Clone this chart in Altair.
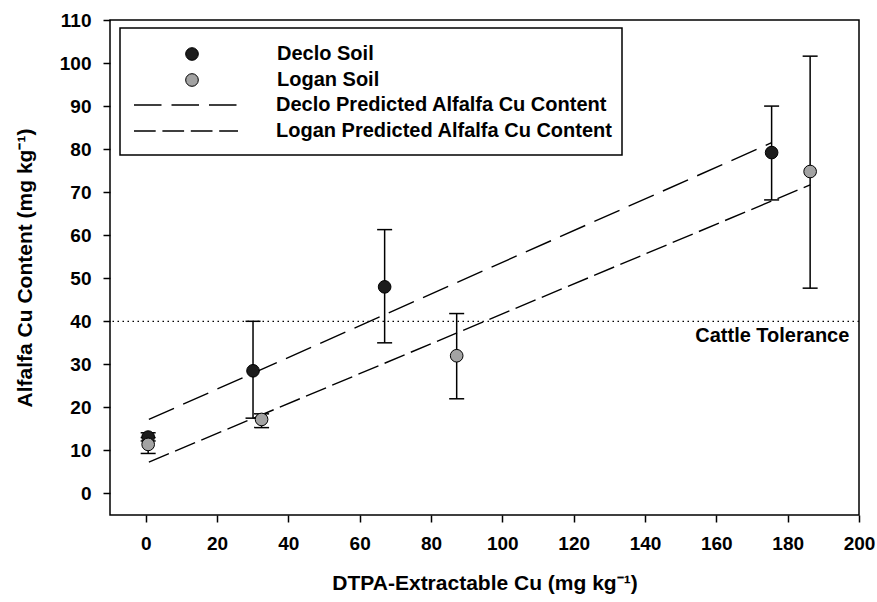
import altair as alt
import pandas as pd

# ---- data ----
soil_names = ["Declo Soil", "Logan Soil"]
pred_names = ["Declo Predicted Alfalfa Cu Content", "Logan Predicted Alfalfa Cu Content"]

declo_x = [0.7, 30.1, 67.0, 175.5]
declo_y = [13.1, 28.5, 48.0, 79.2]
declo_lo = [12.2, 17.5, 35.0, 68.2]
declo_hi = [14.1, 40.0, 61.3, 90.0]

logan_x = [0.7, 32.5, 87.2, 186.3]
logan_y = [11.4, 17.2, 32.0, 74.8]
logan_lo = [9.3, 15.3, 22.0, 47.7]
logan_hi = [13.0, 18.5, 41.8, 101.6]

declo_pred_x = [0.9, 175.5]
declo_pred_y = [17.2, 81.5]
logan_pred_x = [0.9, 186.3]
logan_pred_y = [7.3, 71.7]

tolerance_value = 40
tolerance_label = "Cattle Tolerance"
tolerance_label_x = 197.3

x_ticks = list(range(0, 201, 20))
y_ticks = list(range(0, 111, 10))

FONT = "Liberation Sans"

# ---- tables ----
pts = pd.DataFrame({
    "soil": [soil_names[0]] * 4 + [soil_names[1]] * 4,
    "x": declo_x + logan_x,
    "y": declo_y + logan_y,
    "lo": declo_lo + logan_lo,
    "hi": declo_hi + logan_hi,
})
pred = pd.DataFrame({
    "pred": [pred_names[0]] * 2 + [pred_names[1]] * 2,
    "x": declo_pred_x + logan_pred_x,
    "y": declo_pred_y + logan_pred_y,
})
tol = pd.DataFrame({"y": [tolerance_value], "x": [tolerance_label_x], "label": [tolerance_label]})
box = pd.DataFrame({"k": [0]})

xs = alt.Scale(domain=[-10, 200], nice=False, zero=False)
ys = alt.Scale(domain=[-5, 110], nice=False, zero=False)

x_axis = alt.Axis(
    values=x_ticks, title="DTPA-Extractable Cu (mg kg⁻¹)", grid=False, domain=False,
    tickColor="black", tickWidth=1.5, tickSize=7, labelPadding=12, labelFlush=False,
    labelFont=FONT, labelFontSize=19, labelFontWeight="bold", labelColor="black",
    titleFont=FONT, titleFontSize=21, titleFontWeight="bold", titleColor="black",
    titleX=374.5, titleY=68, titleBaseline="middle",
)
y_axis = alt.Axis(
    values=y_ticks, title="Alfalfa Cu Content (mg kg⁻¹)", grid=False, domain=False,
    tickColor="black", tickWidth=1.5, tickSize=7, labelPadding=12, labelFlush=False,
    labelFont=FONT, labelFontSize=19, labelFontWeight="bold", labelColor="black",
    titleFont=FONT, titleFontSize=21, titleFontWeight="bold", titleColor="black",
    titleX=-85, titleY=247.5, titleBaseline="middle", titleAngle=270,
)

X = alt.X("x:Q", scale=xs, axis=x_axis)
Y = alt.Y("y:Q", scale=ys, axis=y_axis)

# legend frame (decoration)
frame = alt.Chart(box).mark_rect(fillOpacity=0, stroke="black", strokeWidth=1.5).encode(
    x=alt.value(10), x2=alt.value(512), y=alt.value(8), y2=alt.value(135)
)

tol_rule = alt.Chart(tol).mark_rule(color="black", strokeWidth=1.3, strokeDash=[1.5, 3.5]).encode(y=Y)
tol_text = alt.Chart(tol).mark_text(
    align="right", baseline="middle", dy=15, font=FONT, fontSize=20, fontWeight="bold", color="black"
).encode(x=X, y=Y, text="label:N")

lines = alt.Chart(pred).mark_line(color="black", strokeWidth=1.4).encode(
    x=X, y=Y,
    strokeDash=alt.StrokeDash(
        "pred:N",
        scale=alt.Scale(domain=pred_names, range=[[27.5, 10], [21.7, 6.7]]),
        legend=alt.Legend(
            orient="none", legendX=23, legendY=72, title=None, padding=0,
            symbolType="stroke", symbolSize=10816, symbolStrokeColor="black", symbolStrokeWidth=1.5,
            labelFont=FONT, labelFontSize=20, labelFontWeight="bold", labelColor="black",
            labelOffset=37, labelLimit=600, clipHeight=26, rowPadding=0,
        ),
    ),
)

err = alt.Chart(pts).mark_rule(color="black", strokeWidth=1.5).encode(
    x=X, y=alt.Y("lo:Q", scale=ys), y2="hi:Q"
)
cap_lo = alt.Chart(pts).mark_tick(orient="horizontal", size=15, thickness=1.5, color="black", opacity=1).encode(
    x=X, y=alt.Y("lo:Q", scale=ys)
)
cap_hi = alt.Chart(pts).mark_tick(orient="horizontal", size=15, thickness=1.5, color="black", opacity=1).encode(
    x=X, y=alt.Y("hi:Q", scale=ys)
)

points = alt.Chart(pts).mark_point(
    shape="circle", filled=True, size=160, stroke="black", strokeWidth=1, opacity=1
).encode(
    x=X, y=Y,
    fill=alt.Fill(
        "soil:N",
        scale=alt.Scale(domain=soil_names, range=["#1c1c1c", "#a3a3a3"]),
        legend=alt.Legend(
            orient="none", legendX=72, legendY=21, title=None, padding=0,
            symbolType="circle", symbolSize=160, symbolStrokeColor="black", symbolStrokeWidth=1,
            symbolOpacity=1,
            labelFont=FONT, labelFontSize=20, labelFontWeight="bold", labelColor="black",
            labelOffset=75, labelLimit=600, clipHeight=26, rowPadding=0,
        ),
    ),
)

chart = alt.layer(frame, tol_rule, tol_text, lines, err, cap_lo, cap_hi, points).properties(
    width=749, height=495,
    autosize=alt.AutoSizeParams(type="none"),
    padding={"left": 110, "top": 20, "right": 18, "bottom": 87},
    background="white",
).configure_view(stroke="black", strokeWidth=1.5)

chart.save("out.html", embed_options={"renderer": "svg", "actions": False})
